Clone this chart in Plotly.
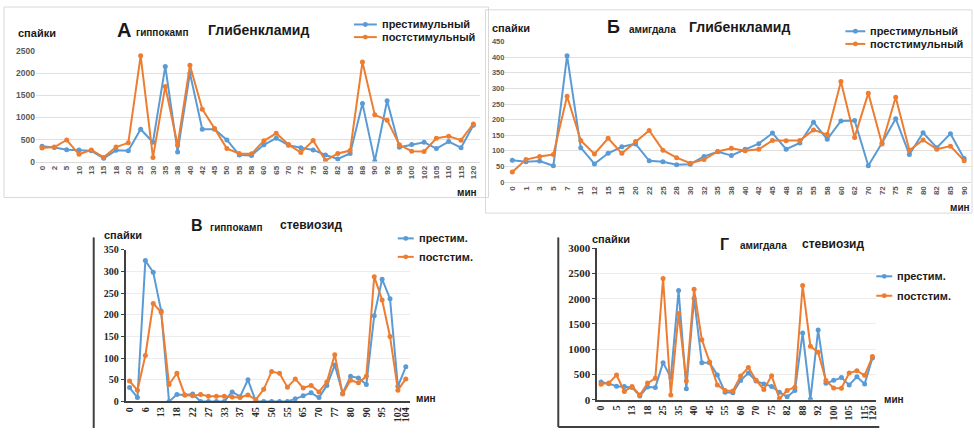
import plotly.graph_objects as go

# ---------------- data ----------------
# А: hippocampus, glibenclamide
hip_glib_min = ["0", "2", "5", "10", "13", "15", "18", "20", "25", "30", "35", "38",
                "40", "42", "45", "50", "55", "58", "60", "65", "70", "72", "75", "80",
                "82", "85", "88", "90", "92", "95", "100", "102", "105", "110", "115", "120"]
hip_glib_pre = [350, 320, 270, 265, 245, 75, 255, 245, 735, 440, 2160, 220,
                2005, 735, 735, 490, 150, 140, 380, 530, 370, 315, 265, 150,
                60, 185, 1320, 10, 1380, 325, 385, 440, 295, 455, 315, 825]
hip_glib_post = [310, 330, 490, 165, 265, 95, 330, 425, 2400, 95, 1705, 370,
                 2185, 1190, 750, 295, 185, 175, 470, 640, 385, 205, 478, 22,
                 185, 250, 2260, 1060, 940, 380, 235, 228, 530, 575, 485, 855]

# Б: amygdala, glibenclamide
amy_glib_min = ["0", "1", "3", "5", "7", "10", "12", "15", "18", "20", "22", "25",
                "28", "30", "32", "35", "38", "40", "42", "45", "48", "52", "55", "58",
                "60", "62", "70", "72", "75", "78", "80", "82", "85", "90"]
amy_glib_pre = [70, 65, 67, 52, 405, 110, 58, 92, 113, 122, 68, 65,
                55, 57, 82, 97, 85, 105, 123, 157, 105, 125, 192, 137,
                196, 197, 52, 125, 203, 88, 158, 110, 155, 75]
amy_glib_post = [32, 72, 82, 88, 275, 133, 90, 140, 92, 130, 165, 102,
                 78, 60, 72, 98, 108, 100, 105, 133, 132, 133, 167, 152,
                 322, 143, 285, 122, 272, 102, 135, 105, 115, 68]

# В: hippocampus, stevioside
hip_stev_min = ["0", "3", "6", "10", "13", "15", "18", "20", "22", "25", "27", "30",
                "33", "35", "37", "40", "45", "47", "50", "52", "55", "60", "65", "67",
                "70", "75", "77", "78", "80", "85", "90", "92", "95", "100", "102", "104"]
hip_stev_ticks = ["0", "6", "13", "18", "22", "27", "33", "37", "45", "50", "55", "65",
                  "70", "77", "80", "90", "95", "102", "104"]
hip_stev_pre = [32, 9, 325, 298, 209, 0, 16, 15, 17, 0, 0, 0,
                0, 22, 11, 50, 0, 0, 0, 0, 0, 6, 13, 20,
                9, 37, 84, 19, 58, 54, 39, 198, 282, 237, 35, 80]
hip_stev_post = [47, 26, 106, 226, 206, 39, 65, 15, 13, 16, 12, 12,
                 12, 10, 9, 15, 4, 28, 69, 65, 33, 52, 31, 37,
                 22, 45, 108, 17, 49, 43, 58, 288, 234, 150, 26, 52]

# Г: amygdala, stevioside
amy_stev_min = list(hip_glib_min)
amy_stev_ticks = ["0", "5", "13", "18", "25", "35", "40", "45", "55", "60", "70", "75",
                  "82", "88", "92", "100", "105", "115", "120"]
amy_stev_pre = list(hip_glib_pre)
amy_stev_post = list(hip_glib_post)

BLUE = "#5b9bd5"
ORANGE = "#ed7d31"
SANS = "Liberation Sans, Arial, sans-serif"
SERIF = "Liberation Serif, Times New Roman, serif"

W, H = 974, 434


def fx(px):
    return px / W


def fy(py):
    return 1 - py / H


fig = go.Figure()


def add_pair(cats, pre, post, xa, ya):
    for vals, col in ((pre, BLUE), (post, ORANGE)):
        fig.add_trace(go.Scatter(
            x=cats, y=vals, mode="lines+markers", xaxis=xa, yaxis=ya,
            line=dict(color=col, width=2), marker=dict(color=col, size=5),
            showlegend=False, hoverinfo="x+y"))


add_pair(hip_glib_min, hip_glib_pre, hip_glib_post, "x", "y")
add_pair(amy_glib_min, amy_glib_pre, amy_glib_post, "x2", "y2")
add_pair(hip_stev_min, hip_stev_pre, hip_stev_post, "x3", "y3")
add_pair(amy_stev_min, amy_stev_pre, amy_stev_post, "x4", "y4")

tick_a = dict(family=SANS, size=8, color="#595959", weight="bold")
tick_s = dict(family=SERIF, size=10, color="#262626", weight="bold")

layout = dict(
    width=W, height=H, margin=dict(l=0, r=0, t=0, b=0),
    paper_bgcolor="white", plot_bgcolor="white", showlegend=False,
    # А
    xaxis=dict(domain=[fx(34), fx(479)], anchor="y", type="category",
               categoryorder="array", categoryarray=hip_glib_min,
               range=[-0.5, len(hip_glib_min) - 0.5], tickangle=-90,
               tickfont=tick_a, showgrid=False, showline=True,
               linecolor="#d9d9d9", ticks="", fixedrange=True),
    yaxis=dict(domain=[fy(160), fy(46.7)], anchor="x", range=[0, 2500],
               dtick=500, tickfont=dict(tick_a, size=8.5), showgrid=True,
               gridcolor="#e0e0e0", zeroline=False, showline=False, ticks=""),
    # Б
    xaxis2=dict(domain=[fx(505), fx(972)], anchor="y2", type="category",
                categoryorder="array", categoryarray=amy_glib_min,
                range=[-0.5, len(amy_glib_min) - 0.5], tickangle=-90,
                tickfont=tick_a, showgrid=False, showline=True,
                linecolor="#d9d9d9", ticks=""),
    yaxis2=dict(domain=[fy(181), fy(36.7)], anchor="x2", range=[0, 450],
                dtick=50, tickfont=dict(tick_a, size=7.5), showgrid=True,
                gridcolor="#e0e0e0", zeroline=False, showline=False, ticks=""),
    # В
    xaxis3=dict(domain=[fx(124), fx(409)], anchor="y3", type="category",
                categoryorder="array", categoryarray=hip_stev_min,
                range=[-0.5, len(hip_stev_min) - 0.5], tickangle=-90,
                tickmode="array", tickvals=hip_stev_ticks, ticktext=hip_stev_ticks,
                tickfont=tick_s, showgrid=False, showline=True,
                linecolor="#404040", linewidth=1.5, ticks=""),
    yaxis3=dict(domain=[fy(406.7), fy(250.7)], anchor="x3", range=[0, 350],
                dtick=50, tickfont=tick_s, showgrid=True, gridcolor="#ececec",
                zeroline=False, showline=True, linecolor="#404040",
                linewidth=1.5, ticks="outside", ticklen=3, tickcolor="#404040"),
    # Г
    xaxis4=dict(domain=[fx(597), fx(877)], anchor="y4", type="category",
                categoryorder="array", categoryarray=amy_stev_min,
                range=[-0.5, len(amy_stev_min) - 0.5], tickangle=-90,
                tickmode="array", tickvals=amy_stev_ticks, ticktext=amy_stev_ticks,
                tickfont=tick_s, showgrid=False, showline=True,
                linecolor="#404040", linewidth=1.5, ticks=""),
    yaxis4=dict(domain=[fy(405), fy(249)], anchor="x4", range=[0, 3000],
                dtick=500, tickfont=dict(tick_s, size=11), showgrid=True,
                gridcolor="#ececec", zeroline=False, showline=True,
                linecolor="#404040", linewidth=1.5, ticks="outside", ticklen=3,
                tickcolor="#404040"),
)
fig.update_layout(**layout)

shapes = []
annotations = []


def text(x, y, s, size, anchor="left", family=SANS, color="#1a1a1a"):
    annotations.append(dict(
        x=fx(x), y=fy(y), xref="paper", yref="paper", text=s, showarrow=False,
        xanchor=anchor, yanchor="middle",
        font=dict(family=family, size=size, color=color, weight="bold")))


def key(x0, x1, y, color, label, size):
    shapes.append(dict(type="line", xref="paper", yref="paper",
                       x0=fx(x0), x1=fx(x1), y0=fy(y), y1=fy(y),
                       line=dict(color=color, width=2)))
    xc = (x0 + x1) / 2
    shapes.append(dict(type="circle", xref="paper", yref="paper",
                       x0=fx(xc - 2.5), x1=fx(xc + 2.5), y0=fy(y + 2.5), y1=fy(y - 2.5),
                       fillcolor=color, line=dict(color=color, width=0)))
    text(x1 + 3, y, label, size)


# panel frames
shapes.append(dict(type="rect", xref="paper", yref="paper", x0=fx(2), x1=fx(488),
                   y0=fy(197), y1=fy(1), line=dict(color="#d9d9d9", width=1)))
shapes.append(dict(type="rect", xref="paper", yref="paper", x0=fx(485), x1=fx(973),
                   y0=fy(213), y1=fy(4), line=dict(color="#d9d9d9", width=1)))
shapes.append(dict(type="line", xref="paper", yref="paper", x0=fx(92), x1=fx(92),
                   y0=fy(434), y1=fy(238), line=dict(color="#404040", width=2)))
shapes.append(dict(type="line", xref="paper", yref="paper", x0=fx(558), x1=fx(558),
                   y0=fy(433), y1=fy(238), line=dict(color="#404040", width=2)))
shapes.append(dict(type="line", xref="paper", yref="paper", x0=fx(558), x1=fx(880),
                   y0=fy(433), y1=fy(433), line=dict(color="#404040", width=2)))

# А
text(113, 25, "А", 20)
text(132, 27, "гиппокамп", 10)
text(205, 25, "Глибенкламид", 14)
text(14, 28, "спайки", 11)
key(353, 376, 19, BLUE, "престимульный", 11)
key(353, 376, 32, ORANGE, "постстимульный", 11)
text(466, 192, "мин", 10, anchor="center")

# Б
text(605, 22, "Б", 18)
text(627, 24, "амигдала", 10)
text(687, 22, "Глибенкламид", 14)
text(490, 23, "спайки", 11)
key(846, 866, 26, BLUE, "престимульный", 11)
key(846, 866, 39, ORANGE, "постстимульный", 11)
text(961, 207, "мин", 10, anchor="center")

# В
text(188, 226, "В", 16)
text(207, 228, "гиппокамп", 10)
text(277, 225, "стевиозид", 12)
text(100, 235, "спайки", 11)
key(397, 413, 239, BLUE, "престим.", 11)
key(397, 413, 258, ORANGE, "постстим.", 11)
text(425, 404, "мин", 10, anchor="center")

# Г
text(718, 245, "Г", 16)
text(738, 246, "амигдала", 10)
text(800, 245, "стевиозид", 12)
text(590, 240, "спайки", 11)
key(877, 893, 278, BLUE, "престим.", 11)
key(877, 893, 298, ORANGE, "постстим.", 11)
text(895, 405, "мин", 10, anchor="center")

fig.update_layout(shapes=shapes, annotations=annotations)
fig.write_html("out.html")
